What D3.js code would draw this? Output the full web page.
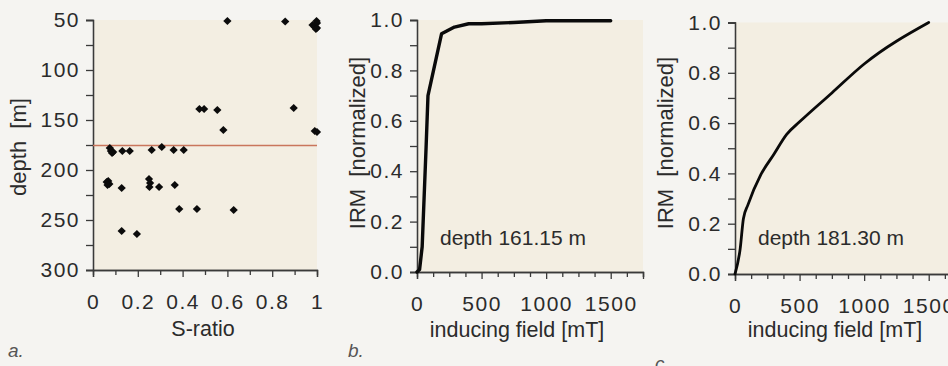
<!DOCTYPE html>
<html>
<head>
<meta charset="utf-8">
<script src="https://cdn.jsdelivr.net/npm/d3@7/dist/d3.min.js"></script>
<style>
  html, body { margin: 0; padding: 0; background: #f5f4f1; }
  svg { display: block; }
  text { font-family: "Liberation Sans", Arial, Helvetica, sans-serif; fill: #2b2b2b; }
</style>
</head>
<body>
<svg id="fig" width="948" height="366"></svg>
<script>
// Panel a: S-ratio versus depth
const sRatio = [0.600, 0.858, 0.998, 0.980, 0.990, 1.000, 1.000, 0.995,
                0.475, 0.496, 0.555, 0.896,
                0.582, 0.990, 1.000,
                0.075, 0.080, 0.090, 0.085, 0.131, 0.164, 0.262, 0.307, 0.360, 0.405,
                0.061, 0.068, 0.073, 0.065, 0.128,
                0.250, 0.255, 0.252, 0.295, 0.365,
                0.385, 0.464, 0.628,
                0.128, 0.196];
const depth  = [51, 51.5, 51, 55, 57, 53, 58, 59,
                139, 139, 140, 138,
                160, 161, 162,
                178, 181, 182, 183, 181, 181, 180, 177, 180, 180,
                212, 211, 214, 215, 218,
                209, 213, 217, 217, 215,
                239, 239, 240,
                261, 264];
const boundaryDepth = 175.5;
const depthTicks = [50, 100, 150, 200, 250, 300];
const depthMinor = [75, 125, 175, 225, 275];
const sTicks = [0, 0.2, 0.4, 0.6, 0.8, 1];
const sMinor = [0.1, 0.3, 0.5, 0.7, 0.9];

// Panels b and c: IRM acquisition curves
const fieldB = [0, 20, 40, 70, 85, 190, 290, 400, 500, 750, 1000, 1500];
const irmB   = [0, 0.01, 0.10, 0.49, 0.70, 0.945, 0.972, 0.985, 0.985, 0.99, 0.997, 0.997];
const fieldC = [0, 40, 65, 100, 200, 300, 400, 500, 750, 1000, 1500];
const irmC   = [0, 0.10, 0.22, 0.275, 0.395, 0.475, 0.555, 0.605, 0.72, 0.835, 1.0];
const fieldTicks = [0, 500, 1000, 1500];
const fieldMinor = [125, 250, 375, 625, 750, 875, 1125, 1250, 1375, 1625, 1750];
const irmTicks = [0, 0.2, 0.4, 0.6, 0.8, 1.0];
const irmMinor = [0.1, 0.3, 0.5, 0.7, 0.9];

const svg = d3.select("#fig");
const plotBg = "#f3eee2";
const axisColor = "#3a3a3a";

function styleAxis(g) {
  g.selectAll("path.domain").attr("stroke", axisColor).attr("stroke-width", 1.3);
  g.selectAll(".tick line").attr("stroke", axisColor).attr("stroke-width", 1.3);
  g.selectAll(".tick text").attr("font-size", 21).attr("fill", "#2b2b2b")
    .attr("letter-spacing", "1.5px")
    .attr("font-family", "'Liberation Sans', Arial, sans-serif");
}

function drawAxes(g, x, y, xMajor, xMinorVals, yMajor, yMinorVals, xFmt, yFmt, h) {
  // bottom axis: minor ticks first, then labelled ticks
  g.append("g").attr("transform", `translate(0,${h})`)
    .call(d3.axisBottom(x).tickValues(xMinorVals).tickSize(5).tickFormat(""))
    .call(styleAxis);
  g.append("g").attr("transform", `translate(0,${h})`)
    .call(d3.axisBottom(x).tickValues(xMajor).tickSize(7).tickPadding(17).tickFormat(xFmt))
    .call(styleAxis);
  g.append("g")
    .call(d3.axisLeft(y).tickValues(yMinorVals).tickSize(7).tickFormat(""))
    .call(styleAxis);
  g.append("g")
    .call(d3.axisLeft(y).tickValues(yMajor).tickSize(7).tickPadding(6).tickFormat(yFmt))
    .call(styleAxis);
}

// ---------- Panel a ----------
{
  const left = 93, top = 20, w = 224, h = 250;
  const g = svg.append("g").attr("transform", `translate(${left},${top})`);
  const x = d3.scaleLinear().domain([0, 1]).range([0, w]);
  const y = d3.scaleLinear().domain([50, 300]).range([0, h]);
  g.append("rect").attr("width", w).attr("height", h).attr("fill", plotBg);
  drawAxes(g, x, y, sTicks, sMinor, depthTicks, depthMinor, d3.format(""), d3.format(""), h);

  g.append("line")
    .attr("x1", x(0)).attr("x2", x(1))
    .attr("y1", y(boundaryDepth)).attr("y2", y(boundaryDepth))
    .attr("stroke", "#c9765c").attr("stroke-width", 1.3);

  const diamond = d3.symbol().type(d3.symbolSquare).size(34);
  g.selectAll("path.pt").data(d3.range(sRatio.length)).join("path")
    .attr("class", "pt")
    .attr("d", diamond)
    .attr("transform", i => `translate(${x(sRatio[i])},${y(depth[i])}) rotate(45)`)
    .attr("fill", "#0b0b0b");

  g.append("text").attr("x", w / 2 - 2).attr("y", 336 - top).attr("text-anchor", "middle")
    .attr("font-size", 21.5).text("S-ratio");
  g.append("text").attr("transform", `translate(${18 - left},${147 - top}) rotate(-90)`)
    .attr("text-anchor", "middle").attr("dominant-baseline", "central")
    .attr("font-size", 22).attr("xml:space", "preserve").text("depth  [m]");
}

// ---------- IRM panels ----------
function irmPanel(left, top, h, field, irm, label, titleX, lineW, curve) {
  const w = 226;
  const g = svg.append("g").attr("transform", `translate(${left},${top})`);
  const x = d3.scaleLinear().domain([0, 1750]).range([0, w]);
  const y = d3.scaleLinear().domain([0, 1]).range([h, 0]);
  g.append("rect").attr("width", w).attr("height", h).attr("fill", plotBg);
  drawAxes(g, x, y, fieldTicks, fieldMinor, irmTicks, irmMinor, d3.format(""), d3.format(".1f"), h);

  const line = d3.line().curve(curve).x(i => x(field[i])).y(i => y(irm[i]));
  g.append("path").datum(d3.range(field.length))
    .attr("d", line).attr("fill", "none")
    .attr("stroke", "#0a0a0a").attr("stroke-width", lineW)
    .attr("stroke-linejoin", "round").attr("stroke-linecap", "round");

  g.append("text").attr("x", 23).attr("y", 245 - top)
    .attr("font-size", 21).text(label);
  g.append("text").attr("x", w / 2 - 13).attr("y", 337 - top).attr("text-anchor", "middle")
    .attr("font-size", 21.5).text("inducing field [mT]");
  g.append("text").attr("transform", `translate(${titleX - left},${143 - top}) rotate(-90)`)
    .attr("text-anchor", "middle").attr("dominant-baseline", "central")
    .attr("font-size", 22).attr("xml:space", "preserve").text("IRM  [normalized]");
}

irmPanel(417, 20, 252, fieldB, irmB, "depth 161.15 m", 357, 3.4, d3.curveLinear);
irmPanel(735, 22.5, 251.5, fieldC, irmC, "depth 181.30 m", 665, 2.8, d3.curveMonotoneX);

// panel letters
const letters = [["a.", 8, 357], ["b.", 348, 357], ["c.", 655, 370]];
svg.selectAll("text.letter").data(letters).join("text")
  .attr("class", "letter")
  .attr("x", d => d[1]).attr("y", d => d[2])
  .attr("font-family", "'Liberation Serif', 'DejaVu Serif', serif")
  .attr("font-style", "italic").attr("font-size", 19)
  .style("fill", "#555")
  .text(d => d[0]);
</script>
</body>
</html>
